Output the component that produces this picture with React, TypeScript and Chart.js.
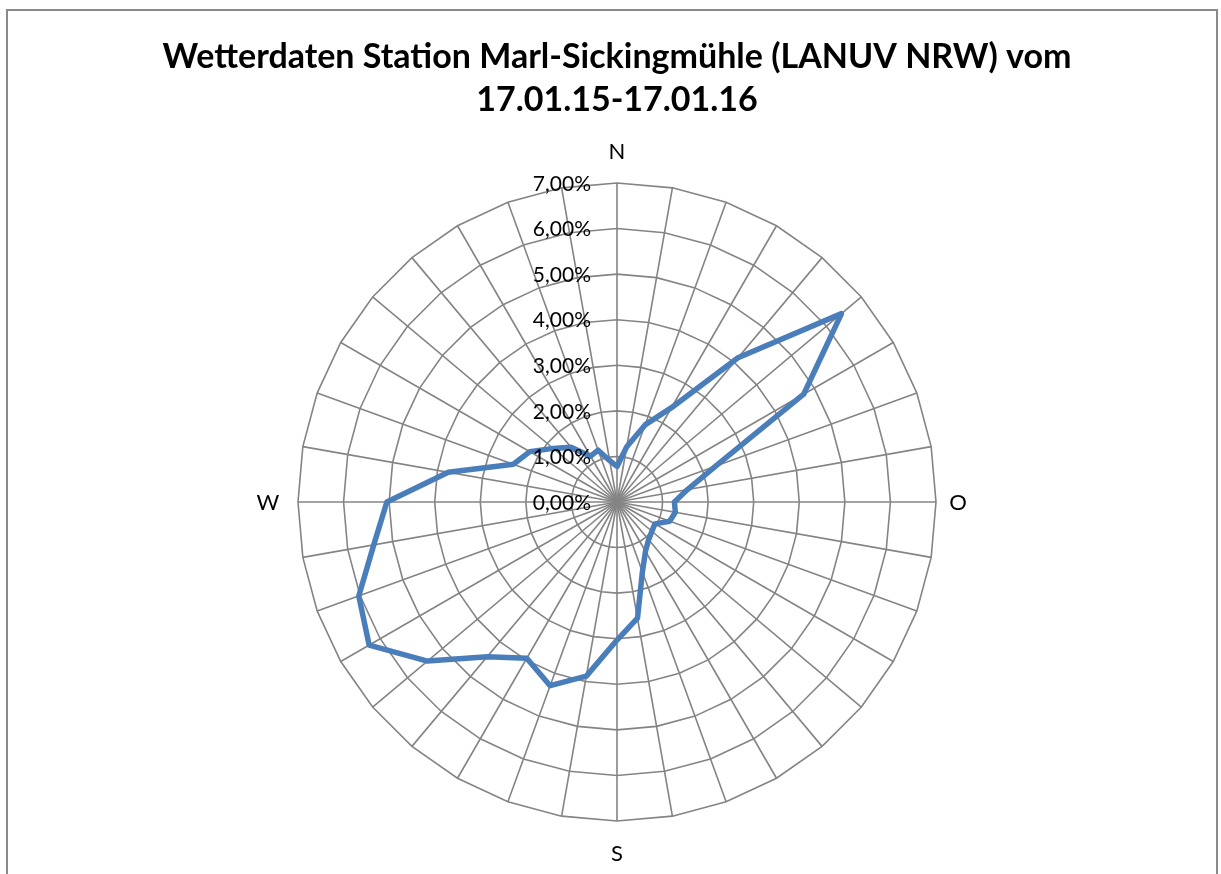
import React, { useEffect, useRef } from "react";
import { Chart, registerables } from "chart.js";

Chart.register(...registerables);

// 36 direction sectors, every 10 degrees, clockwise from north
const directions = [
  "N", "", "", "", "", "", "", "", "",
  "O", "", "", "", "", "", "", "", "",
  "S", "", "", "", "", "", "", "", "",
  "W", "", "", "", "", "", "", "", "",
];

// share of hours per direction sector (%)
const windShare = [
  0.78, 1.23, 1.80, 2.39, 4.13, 6.43, 4.73, 2.31, 1.57,
  1.26, 1.30, 1.23, 0.96, 1.00, 1.08, 1.25, 1.63, 2.59,
  3.03, 3.88, 4.29, 3.96, 4.43, 5.43, 6.28, 6.03, 5.42,
  5.05, 3.76, 2.42, 2.21, 1.83, 1.57, 1.16, 1.21, 0.92,
];

const tickValues = [0, 1, 2, 3, 4, 5, 6, 7];

const titleLines = [
  "Wetterdaten Station Marl-Sickingmühle (LANUV NRW) vom",
  "17.01.15-17.01.16",
];

const formatPct = (v: number) => v.toFixed(2).replace(".", ",") + "%";

const labelGap: Record<string, number> = { N: 32, O: 22, S: 32, W: 30 };

const overlayPlugin = {
  id: "overlayText",
  afterDraw(chart: any) {
    const s = chart.scales.r;
    const ctx = chart.ctx as CanvasRenderingContext2D;
    ctx.save();
    ctx.fillStyle = "#000000";
    ctx.font = "21px Lato";
    ctx.textAlign = "right";
    ctx.textBaseline = "middle";
    tickValues.forEach((v) => {
      const d = s.getDistanceFromCenterForValue(v);
      ctx.fillText(formatPct(v), s.xCenter - 26, s.yCenter - d + 1);
    });
    ctx.font = "22px Lato";
    ctx.textAlign = "center";
    directions.forEach((lab, i) => {
      if (!lab) return;
      const p = s.getPointPosition(i, s.drawingArea + labelGap[lab]);
      ctx.fillText(lab, p.x, p.y + 1);
    });
    ctx.restore();
  },
};

export default function App() {
  const ref = useRef<HTMLCanvasElement | null>(null);

  useEffect(() => {
    if (!ref.current) return;
    const chart = new Chart(ref.current, {
      type: "radar",
      data: {
        labels: directions,
        datasets: [
          {
            label: "Wind",
            data: windShare,
            borderColor: "#4a7ebb",
            borderWidth: 5.5,
            borderJoinStyle: "round",
            pointRadius: 0,
            pointHoverRadius: 0,
            fill: false,
            tension: 0,
          },
        ],
      },
      options: {
        responsive: false,
        animation: false,
        layout: { padding: { left: 13, right: 0, top: 0, bottom: 53 } },
        plugins: {
          legend: { display: false },
          tooltip: { enabled: false },
          title: {
            display: true,
            text: titleLines,
            color: "#000000",
            font: { family: "Lato", size: 34, weight: "bold", lineHeight: 43 / 34 },
            padding: { top: 35.5, bottom: 61.5 },
          },
        },
        scales: {
          r: {
            min: 0,
            max: 7,
            startAngle: 0,
            ticks: { stepSize: 1, display: false },
            grid: { color: "#848484", lineWidth: 1.6 },
            angleLines: { color: "#848484", lineWidth: 1.6 },
            pointLabels: { display: false },
          },
        },
      },
      plugins: [overlayPlugin],
    });
    return () => chart.destroy();
  }, []);

  return (
    <>
      <div
        style={{
          position: "absolute",
          left: 6,
          top: 9,
          width: 1212,
          height: 865,
          boxSizing: "border-box",
          borderTop: "2px solid #898989",
          borderLeft: "2px solid #898989",
          borderRight: "2px solid #898989",
        }}
      />
      <canvas
        ref={ref}
        width={1221}
        height={874}
        style={{ position: "absolute", left: 0, top: 0, display: "block", width: 1221, height: 874 }}
      />
    </>
  );
}
